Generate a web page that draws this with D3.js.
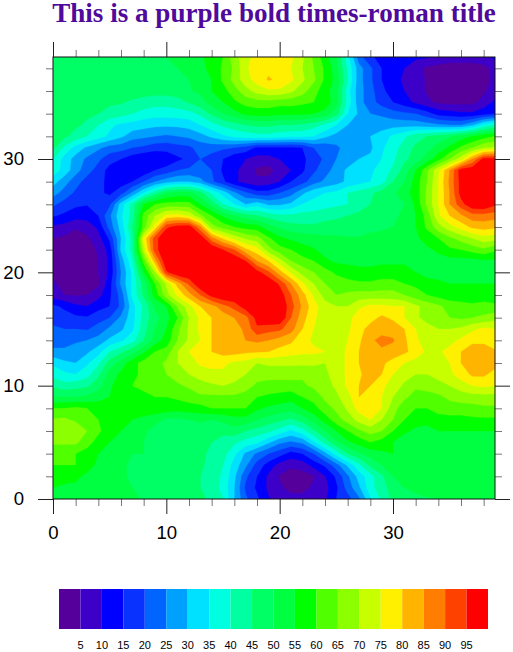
<!DOCTYPE html>
<html>
<head>
<meta charset="utf-8">
<script src="https://cdn.jsdelivr.net/npm/d3@7"></script>
<style>html,body{margin:0;padding:0;background:#fff}svg{display:block}</style>
</head>
<body>
<svg id="c" width="513" height="652"></svg>
<script>
const titleText = "This is a purple bold times-roman title";
const levels = [5,10,15,20,25,30,35,40,45,50,55,60,65,70,75,80,85,90,95];
const bandColors = ["#55009b","#3c00c8","#0000ff","#0a32ff","#0064ff","#00a0ff","#00e1ff","#00ffe1","#00ffa0","#00ff64","#00ff40","#00ff00","#50ff00","#8cff00","#c8ff00","#fff000","#ffb400","#ff7d00","#ff4100","#ff0000"];
const axisTicks = [0,10,20,30];
const minorTicks = [2,4,6,8,12,14,16,18,22,24,26,28,32,34,36,38];
// rows from y=39 (top) to y=0, columns x=0..39
const gridRows = [
[47,47,47,47,47,47,47,47,47,48,50,51,53,54,57,60,68,73,77,78,78,76,71,64,57,50,37,22,16,13,12,11,11,10.5,9,8,8,8,9,11],
[47,47,47,47,47,47,47,47,47,48,49,50,52,54,56,61,66,74,78,79,79,75,70,65,59,52,39,27,21,15,13,10,7,4,3,2,2,2,3,7],
[47,47,47,47,47,47,47,47,47,47.5,48,49,50,51.5,55,61,67,73,77,80.5,79,76,71,66,59,53,40,27,21,15,12,9,7,4.5,2,1,1,1,2,7],
[47,48,48,48,48,48,48,48,47,47,47,47.5,49.5,51,55,58,63,68,72,74,74,71,67,62,57,52,37,27,22,16,13,10,7,4.5,3,2,2,2,4,8],
[47,47,47,47,46.5,46,45.5,44,43,42,42,43,45.5,48,52,55,59,62,63,63,62,62,61,60,58,52,38,27,22,18,15,12,9,6,4,3.5,3.5,3.5,7,11],
[46,46,46,46,45,43,42,40,38,37,37,37.5,38,41,46,50,53,56,57,57,56,56,56,55,53,47,35,29,25,24,22,21,20,17,13,12,11,11,13,15],
[47,47,46,44,40,36,34,33,32,31,31,31,32,35,38,41,43,45,46,46,45,45,44,42,39,35,30,28,28,28,28,28,28,27,26,25,25,29,36,40],
[47,46,43,40,37,34,31,27,26,25,24,25,26,28,31,34,36,37,38,38,37,36,36,35,31,28,28,29,30,32,36,39,43,45,47,49,52,55,58,60],
[46,39,33,29,26,23,22,20,19,17,17,18,19,22,22,21,20,18,14,14,14,14,15,20,21,24,27,28,29,34,38,42,46,48,52,56,61,65,69,71],
[40,33,28,24,21,17,15,12,10,10,11,14,16,20,18,15,11,10,8,8,10,12,14,17,21,25,27,30,31,35,39,44,47,52,58,65,73,85,97,97],
[38,33,27,22,18,13,12,11,11,15,17,20,21,21,20,14,11,8,4,3,7,10,14,19,23,27,31,33,34,37,41,47,55,64,74,85,98,99,100,100],
[32,27,22,18,16,14,12.5,15,20,25,28,30,30,27,21,16,11,8,6,7,10,15,18,23,26,28,31,33,35,38,45,50,57,65,75,86,97,100,100,100],
[27,23,19,17,16,14,18,26,35,43,50,52,52,47,39,33,26,21,17,17,20,23,29,33,35,36,40,42,44,47,49,53,57,66,75,85,97,100,100,99],
[21,18,16,15.3,15,19,32,42,55,60,62,62,62,55,48,40,35,30,33,29,29,31,35,37,38,39,40,43,45,48,49,50,56,66,75,85,93,99,100,96],
[15.5,14,12,12,15,24,34,42,62,70,76,77,74,66,60,54,50,47,45,43,41,41,42,42,43,44,45,46,47,48,49,51,55,62,74,80,84,88,88,87],
[9,8,5.5,7,11,22,32,45,62,77,94,97,98,86,67,63,60,58,57,52,49,47,46,46,47,47,47,47,48,49,50,52,55,61,68,73,77,81,82,81],
[5,4,3,4,8,16,30,42,76,93,100,100,100,99,87,79,73,69,67,61,56,54,53,52,51,51,50.5,50.5,52,52,52,52,54,57,60,64,67,70,73,72],
[3,2,2,3,5.5,12,31,42,72,93,100,100,100,100,100,95,90,81,77,67,62,60,57,55.5,53,52,52,52,52,52,53,53,53,54,56,59,60,62,64,61],
[3,1,1,1,5,11,27,39,62,83,100,100,100,100,100,100,100,95,85,80,72,65,62,60,56,54,54,54,54,54,54,54,54,54,53,53,53,53,54,54],
[3,1,0.5,1,5,11,25,36,54,70,94,100,100,100,100,100,100,100,97,91,82,74,68,65,62,59,57,56,56,57,57,57,55,53,53,53,53,54,54,54],
[6,3,2,2,4,13,26,36,47,60,71,82,91,100,100,100,100,100,100,100,94,85,76,70,65,63,62,61,61,62,62,60,59,57,56,55,55,55,55,55],
[7,5,4.5,5,8,14,22,36,46,57,68,76,83,90,97,100,100,100,100,100,98,90,82,74,68,65,66,67,67,67,67,65,62,60,58,57,56,57,57,57],
[16,14,11,10,13,15,21,33,41,51,55,66,73,80,83,88,92,98,100,100,100,92,84,77,72,70,70,74,76,76,75,75,71,68,66,63,62.5,61,62,61],
[18,17,16,15.5,18,20,26,33,42,48,53,60,70,76,80,82,85,88,97,100,100,90,82,76,72,71,73,78,78,81,79,75,71,68,66,65,64,65,66,68],
[21,20,20,19.5,22,26,29,34,43,50,55,64,71,76,80,82,83,86,94,92,91,87,80,75,72,71,74,78,82,83,83,80,75,72,70,70,71,74,76,75],
[23,23,24,25,27,31,34,38,45,52,57,65,71,75,80,82,84,85,86,85,83,81,77,74,72,71,75,79,84,86.5,85.5,81,76,72,72,73,76,78,78,76],
[26,26,28,29,33,40,44,48,54,60,62,70,75,78,80,82,82,81,80.5,80,78,77,76,76,75,72,76,80,84,84,83,81,78,74,74,77,80,84,84,81],
[34,31,30,34,39,47,52,58,62,63,66,70,72,76,76,76,74,73,70,71,71,71,71,71,70,72,76,80,83,81,78,75,73,73,73,75,80,84,84,82],
[38,36,35,38,44,52,56,58,62,63,65,68,70,72,74,74,72,70,67,67,67,67,66,67,69,72,76,79,83,80,75,72,70,70,72,74,77,81,81,78],
[44,42,43,44,48,54,58,60,61,62,63,64,66,68,69,70,69,67,64,63,63,63,64,66,68,71,76,80,80,76,73,69,66,67,68,70,73,75,76,75],
[50,50,50,51,53,55,57,58,59,60,60,61,62,64,64,64,64,63,60,59,58,57,60,62,66,69,73,80,78,75,70,66,63,63,64,66,67,68,68,68],
[60,60,61,60,58,57,57,56,57,58,58,57,58,58,60,60,60,60,56,54,53,52,55,58,63,66,71,77,79,75,67,62,60,60,62,63,63,63,64,64],
[65.5,66,64,63,60,57,56,55,54,52,49,49,50,51,50,51,53,53,50,48,46,44,47,52,57,63,67,72,75,70,65,60,57,57,58,58,58,59,59,59],
[68,69,69,65,61,57,55,53,51,48,47,47,47,47,48,47,48,45,43,41,38,34,38,44,50,55,60,64,67,65,60,56,54,53,55,55,55,55,55,55],
[66,66,66,62,58,55,53,51,50,47,46,46,46,46,45,42,41,38,36,31,26,24,26,34,42,49,54,57,60,58,55,52,52,52,53,53,53,53,53,53],
[61,61,60,58,55,54,52,50,50,48,47,47,47,46,44,42,36,29,24,20,17,13,15,20,28,37,45,49,52,54,55,54,52,52,53,53,52,52,52,52],
[60,60,60,57,54,53,51,49,49,47,46,46,47,46,43,40,33,26,18,13,8,6,7,12,16,23,31,39,46,50,52,53,53,54,54,54,53,53,53,53],
[57,57,56,54,52,51,51,49,48,47,46,46,46,45,43,39,31,21,15,9,4.5,2.5,3,4.5,9.5,16,24,32,38,44,50,52,53,53,53,53,54,54,54,54],
[55,54,54,53,51,50,50,50,48,47,46,46,45,45,43,38,30,19,14,9,6,3,3,6,8,14,22,29,38,43,47,50,51,52,53,53,53,53,53,53],
[53,53,53,52,51,51,50.5,50.5,49.8,48,47,47,47,46,44,40,30,21,16,10.5,8,7,7,8,9,15,18,24,34,41,46,48,49,49.5,49.8,50.5,51,52,52,53]
];

const svg = d3.select("#c");
const L=53,R=495,T=57,B=499;
const xs = d3.scaleLinear().domain([0,39]).range([L,R]);
const ys = d3.scaleLinear().domain([0,39]).range([B,T]);
const n = gridRows.length, m = gridRows[0].length;
const flat = gridRows.flat();

svg.append("defs").append("clipPath").attr("id","plot").append("rect")
  .attr("x",L).attr("y",T).attr("width",R-L).attr("height",B-T);

const contour = d3.contours().size([m,n]).smooth(true).thresholds([-1].concat(levels));
const proj = d3.geoTransform({point(cx,cy){
  this.stream.point(xs((cx-0.5)*39/(m-1)), ys(39*(1-(cy-0.5)/(n-1))));
}});
const path = d3.geoPath(proj);
svg.append("g").attr("clip-path","url(#plot)").selectAll("path")
  .data(contour(flat)).join("path")
  .attr("d",path)
  .attr("fill",(d,i)=>bandColors[i])
  .attr("stroke",(d,i)=>bandColors[i]).attr("stroke-width",0.3);

function ax(gen,tx,ty,color){
  const g=svg.append("g").attr("transform",`translate(${tx},${ty})`).call(gen);
  g.select(".domain").remove();
  g.selectAll("line").attr("stroke",color).attr("stroke-width",1);
  return g;
}
const noLab=()=>"";
const gray="#777", dark="#222";
ax(d3.axisBottom(xs).tickValues(minorTicks).tickSize(7).tickFormat(noLab),0,B,gray).selectAll("text").remove();
ax(d3.axisTop(xs).tickValues(minorTicks).tickSize(7).tickFormat(noLab),0,T,gray).selectAll("text").remove();
ax(d3.axisLeft(ys).tickValues(minorTicks).tickSize(7).tickFormat(noLab),L,0,gray).selectAll("text").remove();
ax(d3.axisRight(ys).tickValues(minorTicks).tickSize(7).tickFormat(noLab),R,0,gray).selectAll("text").remove();
const bx=ax(d3.axisBottom(xs).tickValues(axisTicks).tickSize(15).tickPadding(12),0,B,dark);
bx.selectAll("text").attr("font-family","'Liberation Sans',Arial,sans-serif").attr("font-size",18.6).attr("fill","#000");
ax(d3.axisTop(xs).tickValues(axisTicks).tickSize(15).tickFormat(noLab),0,T,dark).selectAll("text").remove();
const ly=ax(d3.axisLeft(ys).tickValues(axisTicks).tickSize(15).tickPadding(14),L,0,dark);
ly.selectAll("text").attr("font-family","'Liberation Sans',Arial,sans-serif").attr("font-size",18.6).attr("fill","#000");
ax(d3.axisRight(ys).tickValues(axisTicks).tickSize(15).tickFormat(noLab),R,0,dark).selectAll("text").remove();

svg.append("rect").attr("x",L).attr("y",T).attr("width",R-L).attr("height",B-T)
  .attr("fill","none").attr("stroke","#111").attr("stroke-width",1);

svg.append("text").attr("x",(L+R)/2).attr("y",22).attr("text-anchor","middle")
  .attr("font-family","'Liberation Serif','Times New Roman',serif").attr("font-weight","bold")
  .attr("font-size",27.1).attr("fill","#4f0a9b").text(titleText);

const lb = d3.scaleLinear().domain([0,bandColors.length]).range([59,488]);
svg.append("g").selectAll("rect").data(bandColors).join("rect")
  .attr("x",(d,i)=>lb(i)).attr("y",589).attr("width",(d,i)=>lb(i+1)-lb(i)).attr("height",40)
  .attr("fill",d=>d);
svg.append("g").selectAll("text").data(levels).join("text")
  .attr("x",(d,i)=>lb(i+1)).attr("y",649).attr("text-anchor","middle")
  .attr("font-family","'Liberation Sans',Arial,sans-serif").attr("font-size",11).attr("fill","#000")
  .text(d=>d);
</script>
</body>
</html>
